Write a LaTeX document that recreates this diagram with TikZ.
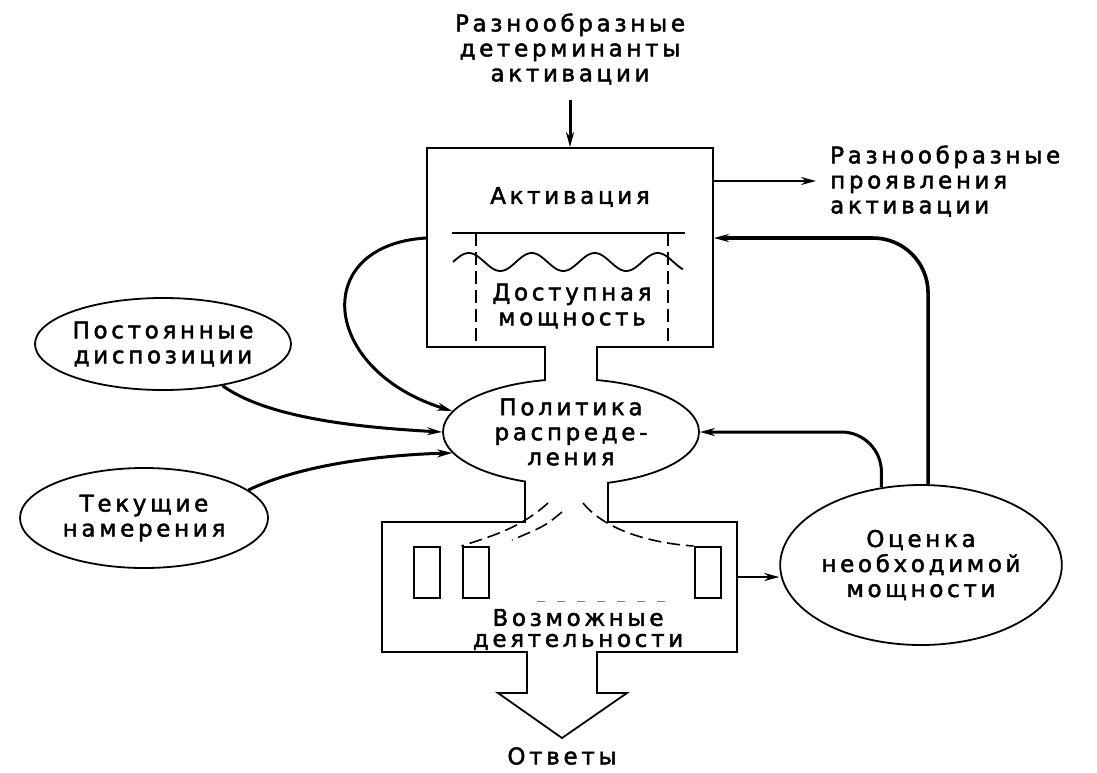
\documentclass[tikz,border=0pt]{standalone}
\usepackage{fontspec}
\setmainfont{DejaVu Sans}[LetterSpace=16,FakeBold=2]
\usetikzlibrary{shapes.geometric,arrows.meta}

\begin{document}
\begin{tikzpicture}[x=1pt,y=-1pt,>={Stealth[length=15pt,width=8pt]},
  lbl/.style={font=\fontsize{23}{25}\selectfont,align=center,inner sep=0pt},
  blk/.style={draw,line width=1.8pt,inner sep=0pt},
  oval/.style={ellipse,draw,line width=1.8pt,fill=white,inner sep=0pt,
    font=\fontsize{23}{25}\selectfont,align=center},
  ranura/.style={draw,line width=2pt,minimum width=26pt,minimum height=51pt,inner sep=0pt},
  flecha/.style={->,line width=3pt},
  raya/.style={line width=1.6pt,dash pattern=on 13pt off 6pt}]
  \useasboundingbox (0,0) rectangle (1097,772);

  % Bloque de activación
  \node[blk,minimum width=286pt,minimum height=199pt] (act) at (570,247.5) {};
  \node[lbl] (actl) at (570,197) {Активация};
  \draw[line width=1.8pt] (452,233) -- (685,233);
  \draw[raya] (476,233) -- (476,347) (668,233) -- (668,347);
  \draw[line width=1.8pt,domain=453:683,samples=120,smooth]
    plot (\x,{262-9*sin((\x-453)/63*360)});
  \node[lbl] (cap) at (572,306) {Доступная\\мощность};

  % Política y actividades
  \node[oval,minimum width=256pt,minimum height=106pt] (pol) at (571,432)
    {Политика\\распреде-\\ления};
  \node[blk,minimum width=355pt,minimum height=130pt] (acts) at (559.5,587) {};

  % Cuellos entre bloques
  \fill[white] (546,345) rectangle (596,382);
  \draw[line width=1.8pt] (545,347) -- (545,380) (597,347) -- (597,380);
  \fill[white] (526,478) rectangle (607,524);
  \draw[line width=1.8pt] (525,481.5) -- (525,522) (608,482.7) -- (608,522);

  % Ranuras de actividades
  \foreach \nm/\cx in {a1/426.5,a2/475.5,an/707.5}
    \node[ranura] (\nm) at (\cx,572.5) {};
  \draw[line width=0.7pt,gray,dash pattern=on 8pt off 12pt] (537,601) -- (673,601);
  \node[lbl] (posl) at (578,629.5) {Возможные\\[-4pt]деятельности};

  % Asignaciones (discontinuas)
  \coordinate (fk1) at (548,503);
  \coordinate (fk2) at (562,512);
  \coordinate (fk3) at (583,503);
  \coordinate (fe2) at (512,540);
  \draw[raya] (fk1) .. controls (520,528) and (495,535) .. (a2.north west);
  \draw[raya] (fk2) .. controls (545,526) .. (fe2);
  \draw[raya] (fk3) .. controls (605,530) and (650,543) .. (an.north west);

  % Flecha de respuestas
  \fill[white] (528,649) rectangle (596,655);
  \draw[line width=1.8pt] (527,652) -- (527,693) -- (498,693) -- (562,738)
    -- (627,693) -- (597,693) -- (597,652);
  \node[lbl] (otv) at (562,756) {Ответы};

  % Entradas y salidas
  \node[lbl] (det) at (570,49) {Разнообразные\\детерминанты\\активации};
  \draw[flecha] ([yshift=-15pt]det.south) -- (det.south |- act.north);
  \node[lbl,align=left,anchor=west] (vyh) at (830,181)
    {Разнообразные\\проявления\\активации};
  \draw[->,line width=2.2pt] (act.east |- vyh.west) -- ([xshift=-14pt]vyh.west);

  % Elipses laterales
  \node[oval,minimum width=256pt,minimum height=92pt] (dis) at (163,344)
    {Постоянные\\диспозиции};
  \node[oval,minimum width=248pt,minimum height=100pt] (int) at (144,518)
    {Текущие\\намерения};
  \node[oval,minimum width=248pt,minimum height=160pt] (est) at (921,565)
    {Оценка\\необходимой\\мощности};

  % Conexiones
  \draw[flecha] ([yshift=9.5pt]act.west) .. controls (310,245) and (320,370) .. (pol.170);
  \draw[flecha] (dis.325) .. controls (270,420) and (370,428) .. (pol.west);
  \draw[flecha] (int.15) .. controls (300,465) and (380,455) .. (pol.190);
  \draw[->,line width=2.2pt] ([yshift=10pt]acts.east) -- ([yshift=10pt]acts.east -| est.west);
  \draw[flecha,line width=3.6pt,rounded corners=55pt] (est.85) |- ([yshift=9.5pt]act.east);
  \draw[flecha,rounded corners=40pt] (est.117) |- (pol.east);
\end{tikzpicture}
\end{document}
